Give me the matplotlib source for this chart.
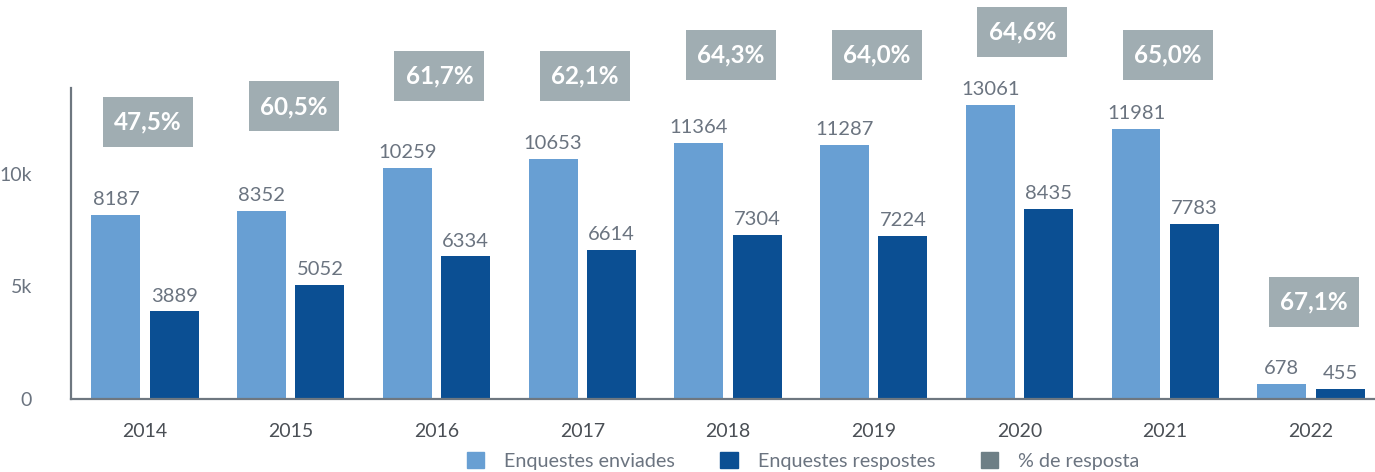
import matplotlib
matplotlib.use("Agg")
import matplotlib.pyplot as plt
import matplotlib.transforms as mtransforms
from matplotlib.patches import Rectangle, Patch
import numpy as np

years = ["2014", "2015", "2016", "2017", "2018", "2019", "2020", "2021", "2022"]
enviades = [8187, 8352, 10259, 10653, 11364, 11287, 13061, 11981, 678]
respostes = [3889, 5052, 6334, 6614, 7304, 7224, 8435, 7783, 455]
percent_labels = ["47,5%", "60,5%", "61,7%", "62,1%", "64,3%", "64,0%", "64,6%", "65,0%", "67,1%"]
# vertical placement of the percentage boxes (data units)
box_y = [12300, 13000, 14350, 14350, 15300, 15300, 16300, 15300, 4300]

c_light = "#689fd3"
c_dark = "#0b4f93"
c_box = "#a0adb2"
c_box_legend = "#6e7f86"
c_text = "#6b7480"

plt.rcParams['font.family'] = ['Lato', 'DejaVu Sans']

fig = plt.figure(figsize=(13.75, 4.72), dpi=100)
ax = fig.add_axes([71/1375, 73/472, 1 - 71/1375, 311/472])

x = np.arange(len(years))
w = 0.336
off = 0.2
b1 = ax.bar(x - off, enviades, w, color=c_light)
b2 = ax.bar(x + off, respostes, w, color=c_dark)
ax.bar_label(b1, labels=[str(v) for v in enviades], padding=5, fontsize=14.5, color=c_text)
ax.bar_label(b2, labels=[str(v) for v in respostes], padding=5, fontsize=14.5, color=c_text)

ax.set_xlim(-0.508, 8.44)
ax.set_ylim(0, 13820)
ax.set_yticks([0, 5000, 10000])
ax.set_yticklabels(["0", "5k", "10k"])
ax.set_xticks(x)
ax.set_xticklabels(years)
ax.tick_params(axis='y', length=0, pad=28, labelsize=14, labelcolor=c_text)
ax.tick_params(axis='x', length=0, pad=17, labelsize=14, labelcolor="#4a4f55")

for s in ["top", "right"]:
    ax.spines[s].set_visible(False)
for s in ["left", "bottom"]:
    ax.spines[s].set_color("#6e7780")
    ax.spines[s].set_linewidth(1.6)

for xi, yi, lab in zip(x, box_y, percent_labels):
    tr = fig.dpi_scale_trans + mtransforms.ScaledTranslation(xi + 0.02, yi, ax.transData)
    ax.add_patch(Rectangle((-0.45, -0.25), 0.9, 0.5, transform=tr, facecolor=c_box,
                           edgecolor="none", clip_on=False, zorder=3))
    ax.text(xi + 0.02, yi, lab, ha="center", va="center", fontsize=17.5, fontweight="bold",
            color="white", zorder=4, clip_on=False)

handles = [Patch(color=c_light, label="Enquestes enviades"),
           Patch(color=c_dark, label="Enquestes respostes"),
           Patch(color=c_box_legend, label="% de resposta")]
fig.legend(handles=handles, loc="center", bbox_to_anchor=(0.584, 0.024), ncol=3,
           frameon=False, fontsize=14.2, labelcolor=c_text, handlelength=0.9, handleheight=0.9,
           columnspacing=2.3, handletextpad=1.0)

fig.savefig("out.png", dpi=100)
